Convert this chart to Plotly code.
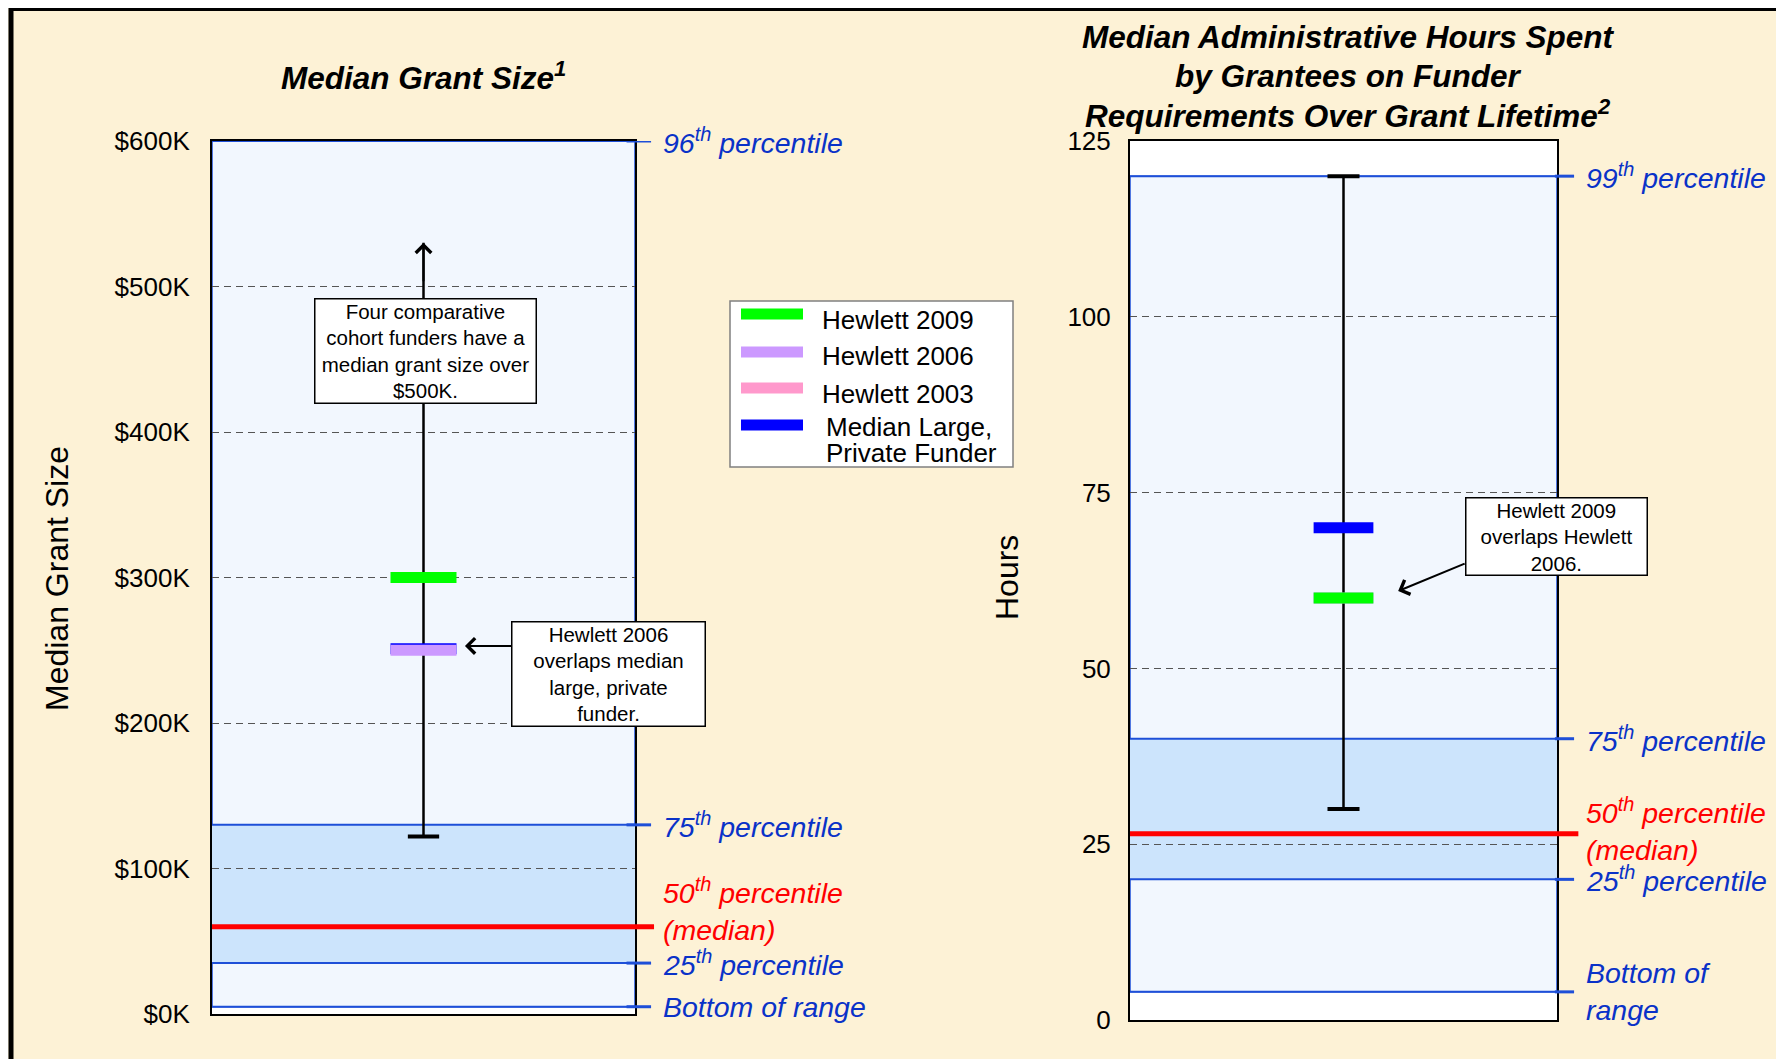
import plotly.graph_objects as go

W, H = 1784, 1059
OFF = 8  # page body margin in the browser

# ---------------- data ----------------
series_names = ["Hewlett 2009", "Hewlett 2006", "Hewlett 2003", "Median Large, Private Funder"]
grant_values = [300, 250, None, 251]      # $K
hours_values = [60, 60, None, 70]         # hours

grant_ticks = [0, 100, 200, 300, 400, 500, 600]
grant_tick_text = ["$0K", "$100K", "$200K", "$300K", "$400K", "$500K", "$600K"]
hours_ticks = [0, 25, 50, 75, 100, 125]
hours_tick_text = ["0", "25", "50", "75", "100", "125"]

# percentiles: top, 75th, 50th, 25th, bottom
grant_pct_labels = ["96<sup>th</sup> percentile", "75<sup>th</sup> percentile",
                    "50<sup>th</sup> percentile<br>(median)", "25<sup>th</sup> percentile",
                    "Bottom of range"]
grant_pct_values = [600, 130, 60, 35, 5]
hours_pct_labels = ["99<sup>th</sup> percentile", "75<sup>th</sup> percentile",
                    "50<sup>th</sup> percentile<br>(median)", "25<sup>th</sup> percentile",
                    "Bottom of<br>range"]
hours_pct_values = [120, 40, 26.5, 20, 4]

grant_cohort_range = [122, 530]
hours_cohort_range = [30, 120]

grant_title = ["Median Grant Size<sup>1</sup>"]
hours_title = ["Median Administrative Hours Spent", "by Grantees on Funder",
               "Requirements Over Grant Lifetime<sup>2</sup>"]

# ---------------- style ----------------
series_colors = ["#00FF00", "#CC99FF", "#FF99CC", "#0000FF"]
FONT = "Liberation Sans, Arial, sans-serif"
CREAM = "#FDF2D6"
LIGHT = "#F2F7FE"
IQR = "#CCE4FC"
BLUE_LINE = "#1E4FD8"
BLUE_TXT = "#0A32C8"
RED = "#FF0000"


def px_x(p):
    return (p - OFF) / W


def px_y(p):
    return 1 - (p - OFF) / H


fig = go.Figure()
shapes = []
annotations = []


def build_panel(xa, ya, values, pct_values, pct_labels, cohort, yrange,
                hw, cap_hw, top_cap, label_xshift, label_yshifts, tick_ext, red_ext):
    xd = xa + " domain"
    # backgrounds
    shapes.append(dict(type="rect", xref=xa, yref=ya, x0=0, x1=1, y0=yrange[0], y1=yrange[1],
                       fillcolor="white", line=dict(width=0), layer="below"))
    shapes.append(dict(type="rect", xref=xa, yref=ya, x0=0, x1=1, y0=pct_values[4], y1=pct_values[0],
                       fillcolor=LIGHT, line=dict(color=BLUE_LINE, width=1.5), layer="below"))
    shapes.append(dict(type="rect", xref=xa, yref=ya, x0=0, x1=1, y0=pct_values[3], y1=pct_values[1],
                       fillcolor=IQR, line=dict(width=0), layer="below"))
    # percentile lines
    for i in (0, 1, 3, 4):
        v = pct_values[i]
        shapes.append(dict(type="line", xref=xa, yref=ya, x0=0, x1=1, y0=v, y1=v,
                           line=dict(color=BLUE_LINE, width=2), layer="below"))
        shapes.append(dict(type="line", xref=xd, yref=ya, x0=tick_ext[0], x1=tick_ext[1], y0=v, y1=v,
                           line=dict(color=BLUE_LINE, width=3), layer="above"))
    v = pct_values[2]
    shapes.append(dict(type="line", xref=xd, yref=ya, x0=0, x1=red_ext, y0=v, y1=v,
                       line=dict(color=RED, width=5), layer="above"))
    # labels
    for i, (lab, v) in enumerate(zip(pct_labels, pct_values)):
        annotations.append(dict(
            xref=xd, yref=ya, x=1, y=v, xanchor="left", yanchor="middle",
            xshift=label_xshift, yshift=label_yshifts[i], showarrow=False, align="left",
            text="<i>" + lab + "</i>",
            font=dict(family=FONT, size=28.5, color=RED if i == 2 else BLUE_TXT)))
    # cohort range whisker
    fig.add_trace(go.Scatter(x=[0.5, 0.5], y=cohort, mode="lines", xaxis=xa, yaxis=ya,
                             line=dict(color="black", width=2.5), showlegend=False, hoverinfo="skip"))
    caps = [cohort[0]] + ([cohort[1]] if top_cap else [])
    for c in caps:
        fig.add_trace(go.Scatter(x=[0.5 - cap_hw, 0.5 + cap_hw], y=[c, c], mode="lines", xaxis=xa, yaxis=ya,
                                 line=dict(color="black", width=4), showlegend=False, hoverinfo="skip"))
    # series markers (drawn bottom-up so Hewlett 2009 is on top)
    for name, val, col in reversed(list(zip(series_names, values, series_colors))):
        if val is None:
            continue
        fig.add_trace(go.Scatter(x=[0.5 - hw, 0.5 + hw], y=[val, val], mode="lines", name=name,
                                 xaxis=xa, yaxis=ya, line=dict(color=col, width=11),
                                 showlegend=False, hoverinfo="skip"))


build_panel("x", "y", grant_values, grant_pct_values, grant_pct_labels, grant_cohort_range,
            [0, 600], hw=0.078, cap_hw=0.037, top_cap=False, label_xshift=26,
            label_yshifts=[0, 0, 17, 0, 0], tick_ext=[0.98, 1.038], red_ext=1.045)
build_panel("x2", "y2", hours_values, hours_pct_values, hours_pct_labels, hours_cohort_range,
            [0, 125], hw=0.07, cap_hw=0.0375, top_cap=True, label_xshift=27,
            label_yshifts=[0, 0, 4, 0, 0], tick_ext=[0.995, 1.04], red_ext=1.05)

# arrow at top of grant range
annotations.append(dict(xref="x", yref="y", x=0.5, y=grant_cohort_range[1], ax=0, ay=40, text="",
                        showarrow=True, arrowhead=4, arrowsize=1.5, arrowwidth=2, arrowcolor="black"))

box_font = dict(family=FONT, size=20.5, color="black")
annotations.append(dict(xref="x", yref="y", x=0.505, y=456, showarrow=False, width=220,
                        text="Four comparative<br>cohort funders have a<br>median grant size over<br>$500K.",
                        bgcolor="white", bordercolor="black", borderwidth=1.5, borderpad=0, font=box_font))
annotations.append(dict(xref="x", yref="y", x=0.9385, y=234, showarrow=False, width=192,
                        text="Hewlett 2006<br>overlaps median<br>large, private<br>funder.",
                        bgcolor="white", bordercolor="black", borderwidth=1.5, borderpad=0, font=box_font))
annotations.append(dict(xref="x", yref="y", x=0.598, y=253, ax=48, ay=0, text="",
                        showarrow=True, arrowhead=4, arrowsize=1.5, arrowwidth=2, arrowcolor="black"))
annotations.append(dict(xref="x2", yref="y2", x=0.9977, y=68.8, showarrow=False, width=180,
                        text="Hewlett 2009<br>overlaps Hewlett<br>2006.",
                        bgcolor="white", bordercolor="black", borderwidth=1.5, borderpad=0, font=box_font))
annotations.append(dict(xref="x2", yref="y2", x=0.628, y=61, ax=68, ay=-28, text="",
                        showarrow=True, arrowhead=4, arrowsize=1.5, arrowwidth=2, arrowcolor="black"))

# titles (one annotation per line for tight line spacing)
title_font = dict(family=FONT, size=31.5, color="black")
for line, yy in zip(grant_title, [76]):
    annotations.append(dict(xref="paper", yref="paper", x=px_x(423), y=px_y(yy), showarrow=False,
                            xanchor="center", yanchor="middle", text="<b><i>" + line + "</i></b>",
                            font=title_font))
for line, yy in zip(hours_title, [37.5, 76, 114]):
    annotations.append(dict(xref="paper", yref="paper", x=px_x(1348), y=px_y(yy), showarrow=False,
                            xanchor="center", yanchor="middle", text="<b><i>" + line + "</i></b>",
                            font=title_font))
# axis titles
annotations.append(dict(xref="paper", yref="paper", x=px_x(57), y=px_y(579), showarrow=False,
                        xanchor="center", yanchor="middle", textangle=-90, text="Median Grant Size",
                        font=dict(family=FONT, size=32, color="black")))
annotations.append(dict(xref="paper", yref="paper", x=px_x(1007), y=px_y(578), showarrow=False,
                        xanchor="center", yanchor="middle", textangle=-90, text="Hours",
                        font=dict(family=FONT, size=32, color="black")))

# legend (drawn manually)
shapes.append(dict(type="rect", xref="paper", yref="paper", x0=px_x(730), x1=px_x(1013),
                   y0=px_y(467), y1=px_y(301), fillcolor="white", line=dict(color="#808080", width=1.5)))
leg_swatch_y = [314, 352, 388, 425]
leg_text_y = [320, 356, 394, 427]
for name, col, sy, ty in zip(series_names, series_colors, leg_swatch_y, leg_text_y):
    shapes.append(dict(type="rect", xref="paper", yref="paper", x0=px_x(741), x1=px_x(803),
                       y0=px_y(sy + 5.5), y1=px_y(sy - 5.5), fillcolor=col, line=dict(width=0)))
    parts = name.replace(", ", ",|").split("|")
    for k, part in enumerate(parts):
        annotations.append(dict(xref="paper", yref="paper",
                                x=px_x(820 if len(parts) == 1 else 824), y=px_y(ty + 26.5 * k),
                                xanchor="left", yanchor="middle", showarrow=False, align="left",
                                text=part, font=dict(family=FONT, size=26, color="black")))

# outer frame (top & left black border)
shapes.append(dict(type="line", xref="paper", yref="paper", x0=px_x(9), x1=1.01, y0=px_y(9), y1=px_y(9),
                   line=dict(color="black", width=4)))
shapes.append(dict(type="line", xref="paper", yref="paper", x0=px_x(11), x1=px_x(11), y0=-0.01, y1=px_y(8),
                   line=dict(color="black", width=5)))

axis_common = dict(showline=True, mirror=True, linecolor="black", linewidth=2, zeroline=False)
xcommon = dict(range=[0, 1], showticklabels=False, showgrid=False, ticks="", **axis_common)
ycommon = dict(showgrid=True, gridcolor="#555555", gridwidth=1.2, griddash="7px,5px",
               ticks="outside", tickcolor="rgba(0,0,0,0)",
               tickfont=dict(family=FONT, size=26, color="black"), **axis_common)

fig.update_layout(
    width=W, height=H, margin=dict(l=0, r=0, t=0, b=0, autoexpand=False),
    paper_bgcolor=CREAM, plot_bgcolor="white", hovermode=False, showlegend=False,
    xaxis=dict(domain=[px_x(212), px_x(635)], **xcommon),
    yaxis=dict(domain=[px_y(1014), px_y(141)], range=[0, 600], tickvals=grant_ticks,
               ticktext=grant_tick_text, ticklen=15, **ycommon),
    xaxis2=dict(domain=[px_x(1130), px_x(1557)], anchor="y2", **xcommon),
    yaxis2=dict(domain=[px_y(1020), px_y(141)], range=[0, 125], tickvals=hours_ticks,
                ticktext=hours_tick_text, ticklen=12, anchor="x2", **ycommon),
    shapes=shapes, annotations=annotations,
)

fig.write_html("out.html")
